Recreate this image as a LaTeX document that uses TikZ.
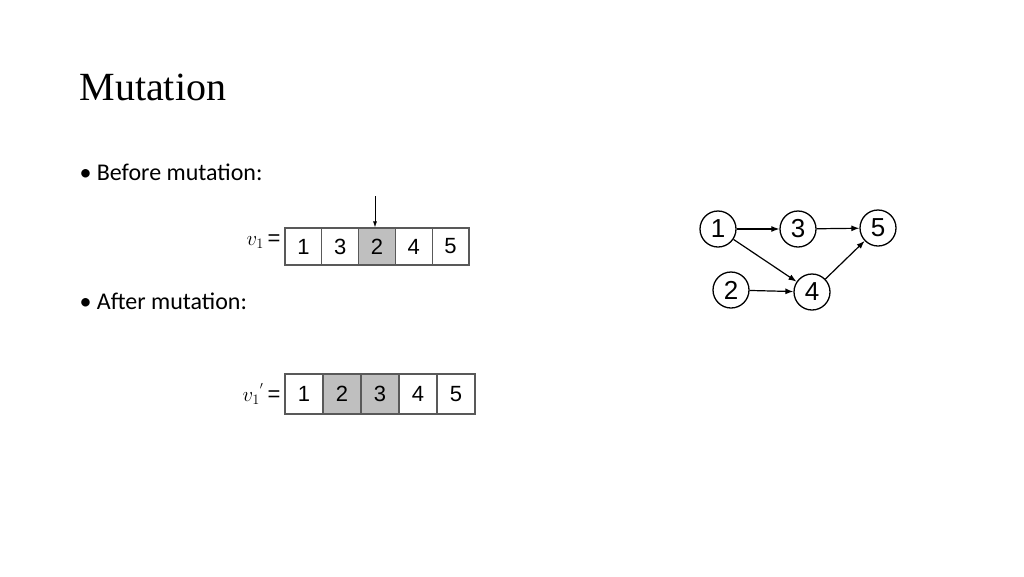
\documentclass[tikz,border=0pt]{standalone}
\usepackage{fontspec}
\setmainfont{Liberation Serif}
\newfontfamily\bodyf{Carlito}
\newfontfamily\arialf{Liberation Sans}
\usetikzlibrary{arrows.meta}
\begin{document}
\begin{tikzpicture}[x=1pt,y=-1pt,
  cell/.style={draw=black!65,line width=1.2pt,minimum height=37pt,inner sep=0pt,font=\arialf\fontsize{22}{22}\selectfont},
  gnode/.style={circle,draw,line width=1.3pt,minimum size=36pt,inner sep=0pt,font=\arialf\fontsize{26}{26}\selectfont},
  arr/.style={-{Latex[length=8pt,width=6pt]},line width=1.2pt}]
\useasboundingbox (0,0) rectangle (1024,576);
\node[anchor=west,font=\fontsize{40}{40}\selectfont] (title) at (76,87) {Mutation};
\node[anchor=west,font=\bodyf\fontsize{24}{24}\selectfont] (b1) at (76,172) {\textbullet\ Before mutation:};
\node[anchor=west,font=\bodyf\fontsize{24}{24}\selectfont] (b2) at (76,301) {\textbullet\ After mutation:};
% array 1
\foreach \v/\f [count=\i] in {1/white,3/white,2/black!25,4/white,5/white}
  \node[cell,minimum width=36.8pt,fill=\f] (a\i) at ({285+36.8*(\i-0.5)},246.5) {\v};
\node[anchor=east,font=\arialf\fontsize{22}{22}\selectfont] (l1) at (284,242) {$v_1$\,=};
\coordinate (ptop) at (375,196);
\draw[-{Latex[length=6pt,width=4pt]},line width=0.8pt] (ptop) -- (a3.north -| ptop);
% array 2
\foreach \v/\f [count=\i] in {1/white,2/black!25,3/black!25,4/white,5/white}
  \node[cell,minimum width=38pt,minimum height=40pt,fill=\f] (c\i) at ({285+38*(\i-0.5)},394) {\v};
\node[anchor=east,font=\arialf\fontsize{22}{22}\selectfont] (l2) at (284,394) {$v_1{}^{'}$\,=};
% graph
\node[gnode] (n1) at (718,229) {1};
\node[gnode] (n3) at (798,229) {3};
\node[gnode] (n5) at (878,228) {5};
\node[gnode] (n2) at (731,290) {2};
\node[gnode] (n4) at (812,292) {4};
\draw[arr] (n1) -- (n3);
\draw[arr] (n3) -- (n5);
\draw[arr] (n1) -- (n4);
\draw[arr] (n2) -- (n4);
\draw[arr] (n4) -- (n5);
\end{tikzpicture}
\end{document}
